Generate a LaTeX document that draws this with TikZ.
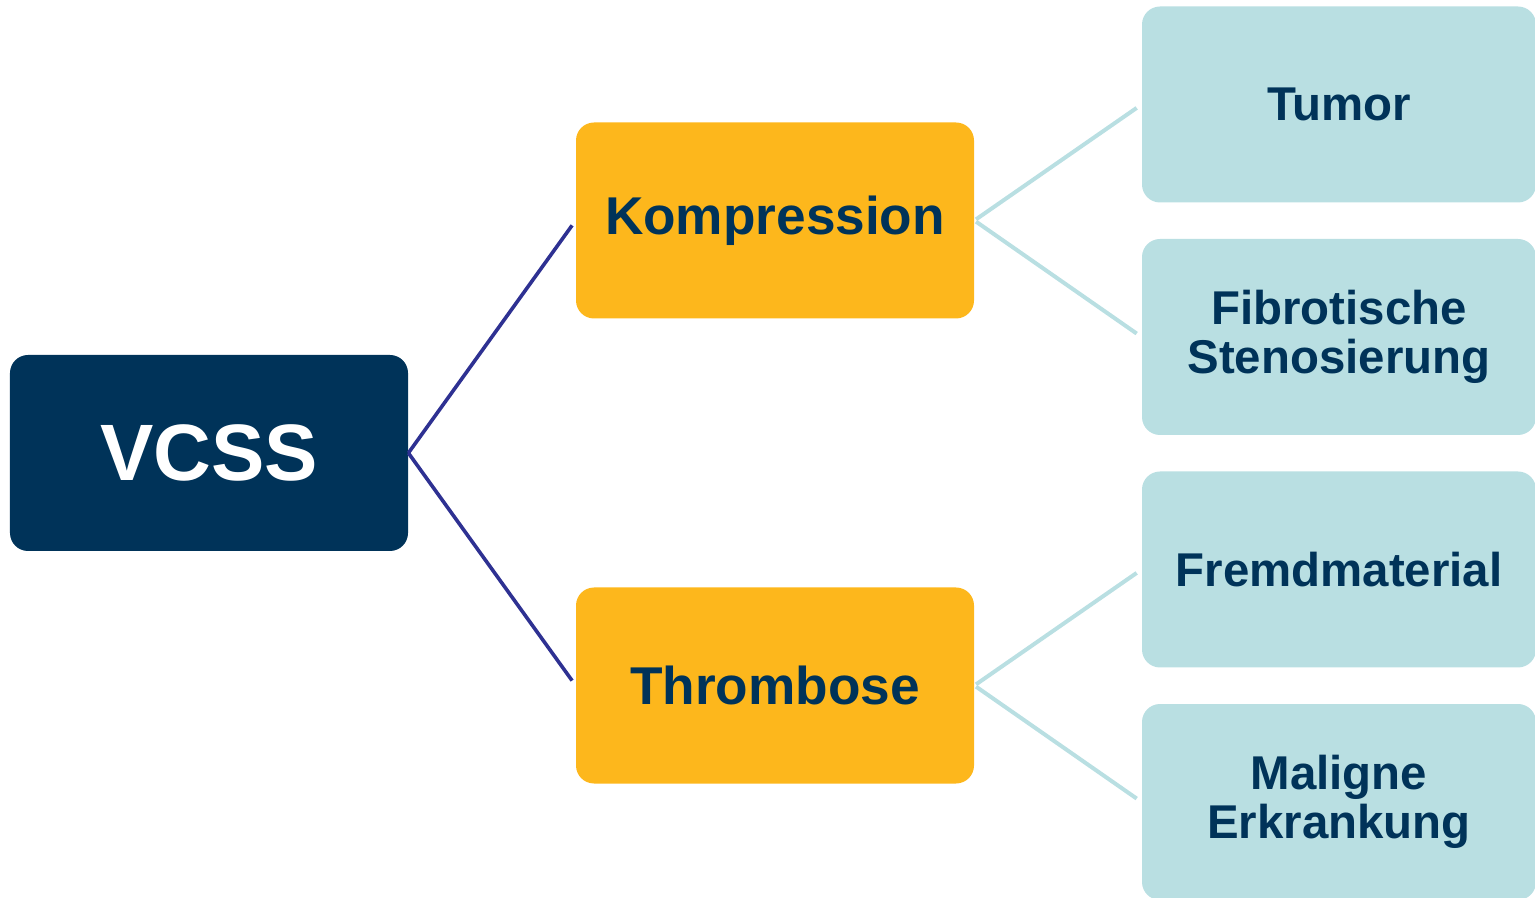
\documentclass[tikz,border=0pt]{standalone}
\usepackage{fontspec}
\setmainfont{Liberation Sans}
\usetikzlibrary{positioning}

\definecolor{navy}{HTML}{003359}
\definecolor{amber}{HTML}{FDB71C}
\definecolor{paleteal}{HTML}{B9DFE2}
\definecolor{indigo}{HTML}{2E3192}

\begin{document}
\begin{tikzpicture}[on grid,
  box/.style={rectangle,rounded corners=9pt,inner sep=0pt,align=center,
    minimum width=199pt,minimum height=98pt},
  root/.style={box,fill=navy,text=white,font=\bfseries\fontsize{40}{44}\selectfont},
  cause/.style={box,fill=amber,text=navy,font=\bfseries\fontsize{26.6}{28}\selectfont},
  leaf/.style={box,fill=paleteal,text=navy,minimum width=197pt,
    font=\bfseries\fontsize{23.7}{24.5}\selectfont},
  trunk/.style={draw=indigo,line width=1.8pt,shorten >=3pt},
  twig/.style={draw=paleteal,line width=2pt,shorten <=1pt,shorten >=3pt}]
	\useasboundingbox (-104.5pt,-222.5pt) rectangle (663pt,226.5pt);
	\node[root] (vcss) {VCSS};
	\node[cause] (komp) [above right=116.25pt and 283pt of vcss] {Kompression};
	\node[cause] (thromb) [below right=116.25pt and 283pt of vcss] {Thrombose};
	\node[leaf] (tumor) [above right=58pt and 282pt of komp] {Tumor};
	\node[leaf] (fibro) [below right=58.25pt and 282pt of komp] {Fibrotische\\Stenosierung};
	\node[leaf] (fremd) [above right=58pt and 282pt of thromb] {Fremdmaterial};
	\node[leaf] (malig) [below right=58.25pt and 282pt of thromb] {Maligne\\Erkrankung};
	\path
	(vcss.east) edge[trunk] (komp.west)
	(vcss.east) edge[trunk] (thromb.west)
	(komp.east) edge[twig] (tumor.west)
	(komp.east) edge[twig] (fibro.west)
	(thromb.east) edge[twig] (fremd.west)
	(thromb.east) edge[twig] (malig.west)
	;
\end{tikzpicture}
\end{document}
